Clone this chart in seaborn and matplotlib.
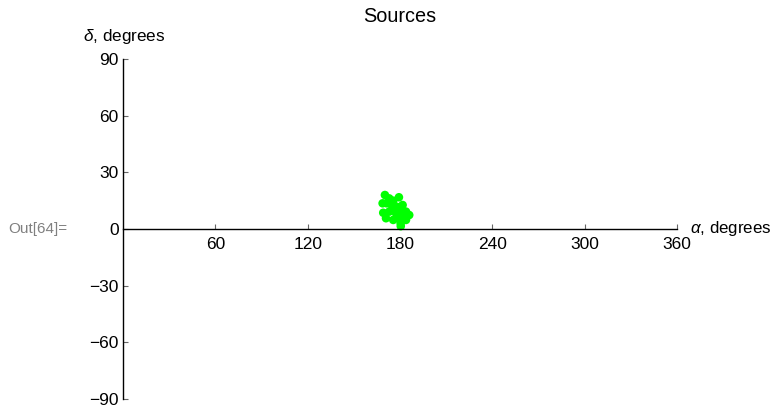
import matplotlib
matplotlib.use("Agg")
import matplotlib.pyplot as plt
import seaborn as sns
import pandas as pd

# Source positions (right ascension alpha, declination delta), degrees
alpha = [170.2, 173.0, 175.6, 179.3, 168.7, 171.3, 174.6, 177.8, 181.7,
         169.1, 173.0, 176.7, 180.0, 183.9, 186.0, 170.9, 175.6, 180.0,
         183.9, 180.4, 181.1, 177.8, 180.5]
delta = [18.0, 16.2, 15.0, 16.8, 13.6, 13.6, 12.7, 11.8, 12.7,
         8.6, 9.2, 9.2, 9.7, 9.2, 7.4, 5.7, 4.8, 5.1,
         4.8, 3.0, 7.4, 6.5, 1.5]
xticks = [60, 120, 180, 240, 300, 360]
yticks = [-90, -60, -30, 0, 30, 60, 90]

sns.set_style("white")
plt.rcParams['font.family'] = ['Liberation Sans', 'DejaVu Sans']
plt.rcParams['mathtext.fontset'] = 'custom'
plt.rcParams['mathtext.it'] = 'Liberation Sans:italic'
plt.rcParams['mathtext.rm'] = 'Liberation Sans'
plt.rcParams['text.color'] = 'black'

df = pd.DataFrame({"alpha": alpha, "delta": delta})

fig = plt.figure(figsize=(7.75, 4.08), dpi=100)
ax = fig.add_axes([123/775, 9/408, 554/775, 340/408])
sns.scatterplot(data=df, x="alpha", y="delta", ax=ax, color=(0.0, 1.0, 0.0),
                s=38, edgecolor="none", linewidth=0, zorder=2, legend=False)

ax.set_xlim(0, 360)
ax.set_ylim(-90, 90)
ax.spines['left'].set_position(('data', 0))
ax.spines['bottom'].set_position(('data', 0))
ax.spines['right'].set_visible(False)
ax.spines['top'].set_visible(False)
for s in ['left', 'bottom']:
    ax.spines[s].set_color('black')
    ax.spines[s].set_linewidth(1.0)
    ax.spines[s].set_zorder(3)

ax.set_xticks(xticks)
ax.set_xticklabels([str(v) for v in xticks])
ax.set_yticks(yticks)
ax.set_yticklabels([str(v).replace('-', '\u2212') for v in yticks])
ax.tick_params(axis='x', bottom=True, top=False, direction='in', length=3.5,
               width=0.8, color='#666666', labelsize=12.5, pad=6, labelcolor='black')
ax.tick_params(axis='y', left=True, right=False, direction='in', length=3.5,
               width=0.8, color='#666666', labelsize=12.5, pad=3, labelcolor='black')
for t in ax.xaxis.get_major_ticks() + ax.yaxis.get_major_ticks():
    t.tick1line.set_zorder(4)
ax.set_xlabel("")
ax.set_ylabel("")
ax.grid(False)

fig.text(400/775, 1 - 17/408, "Sources", ha='center', va='center', fontsize=14.3, color='black')
fig.text(83/775, 1 - 37/408, r"$\delta$, degrees", ha='left', va='center', fontsize=12.3, color='black')
fig.text(690/775, 1 - 229/408, r"$\alpha$, degrees", ha='left', va='center', fontsize=12.2, color='black')
fig.text(8/775, 1 - 229/408, "Out[64]=", ha='left', va='center', fontsize=11, color='#808080')

fig.savefig("out.png", dpi=100)
